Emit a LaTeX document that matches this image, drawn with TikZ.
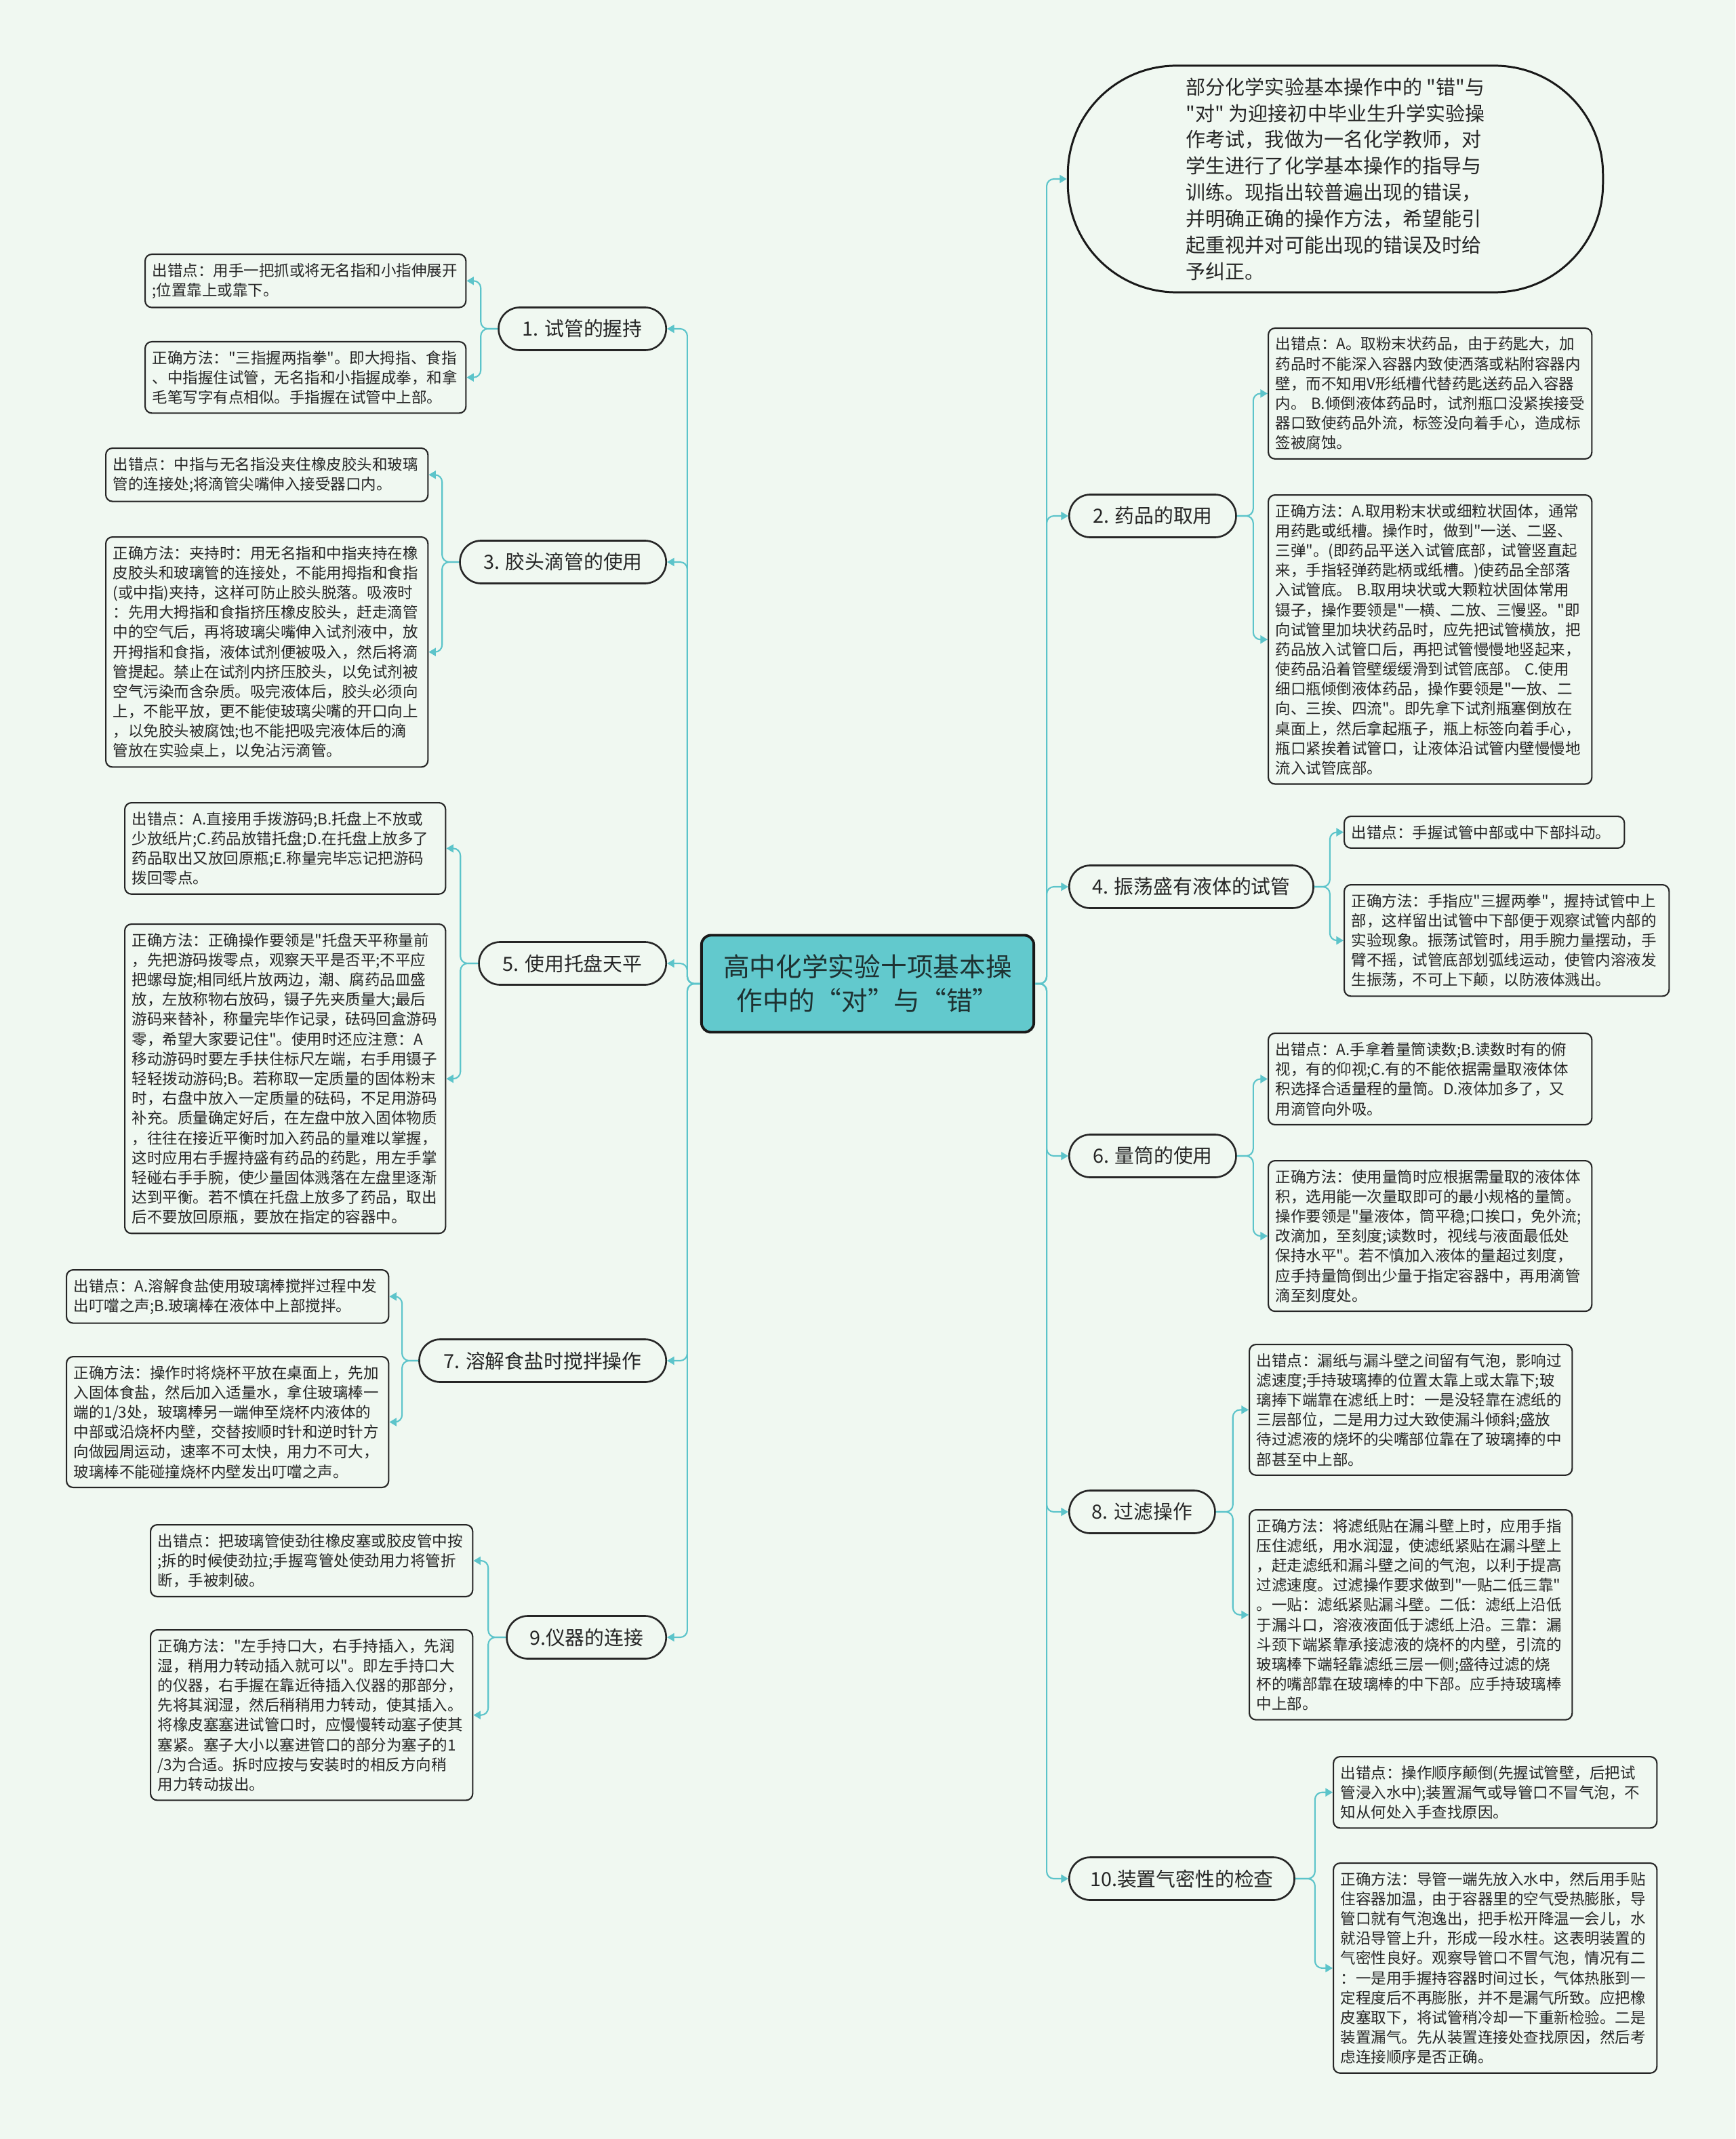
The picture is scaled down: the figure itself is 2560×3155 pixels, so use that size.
\documentclass[tikz,border=0pt]{standalone}
\usepackage{fontspec}
\setmainfont{Noto Sans CJK SC}
\newfontfamily\cjk{Noto Sans CJK SC}
\usetikzlibrary{arrows.meta,calc}
\definecolor{bg}{RGB}{240,248,241}
\definecolor{teal1}{RGB}{92,196,202}
\definecolor{centerfill}{RGB}{98,201,205}
\definecolor{txt}{RGB}{38,38,38}
\begin{document}
\begin{tikzpicture}[x=0.01cm,y=-0.01cm,
 leaf/.style={draw=black!85, line width=0.6pt, rounded corners=2.8pt, fill=bg, anchor=north west, align=left, inner xsep=0.105cm, inner ysep=3.7pt, font=\cjk\fontsize{6.4}{8.3}\selectfont, text=txt},
 branch/.style={draw=black!85, line width=0.75pt, rounded corners=8.9pt, fill=bg, inner xsep=2pt, minimum height=0.63cm, font=\cjk\fontsize{8.2}{10}\selectfont, text=txt},
 conn/.style={draw=teal1, line width=0.6pt, rounded corners=3pt, -{Triangle[length=3pt,width=3.4pt]}},
]
\useasboundingbox[fill=bg] (0,0) rectangle (2560,3155);

% center
\node[draw=black!90, line width=1.1pt, fill=centerfill, rounded corners=4pt, minimum width=4.9cm, minimum height=1.43cm, align=center, font=\cjk\fontsize{11}{14.2}\selectfont, text={rgb,255:red,30;green,50;blue,50}] (c) at (1280,1451) {高中化学实验十项基本操\\作中的“对”与“错”};

% intro
\node[draw=black!90, line width=0.85pt, rounded corners=1.6cm, fill=bg, minimum width=7.89cm, minimum height=3.34cm, align=left, font=\cjk\fontsize{8.25}{11.04}\selectfont, text=txt] (intro) at (1970,264) {部分化学实验基本操作中的 "错"与\\"对" 为迎接初中毕业生升学实验操\\作考试，我做为一名化学教师，对\\学生进行了化学基本操作的指导与\\训练。现指出较普遍出现的错误，\\并明确正确的操作方法，希望能引\\起重视并对可能出现的错误及时给\\予纠正。};

% left branches
\node[branch, anchor=east, minimum width=2.47cm] (b1) at (984,485) {1. 试管的握持};
\node[branch, anchor=east, minimum width=3.04cm] (b3) at (984,829) {3. 胶头滴管的使用};
\node[branch, anchor=east, minimum width=2.76cm] (b5) at (984,1421) {5. 使用托盘天平};
\node[branch, anchor=east, minimum width=3.64cm] (b7) at (984,2007) {7. 溶解食盐时搅拌操作};
\node[branch, anchor=east, minimum width=2.35cm] (b9) at (984,2415) {9.仪器的连接};

% right branches
\node[branch, anchor=west, minimum width=2.46cm] (b2) at (1576,761) {2. 药品的取用};
\node[branch, anchor=west, minimum width=3.60cm] (b4) at (1576,1308) {4. 振荡盛有液体的试管};
\node[branch, anchor=west, minimum width=2.46cm] (b6) at (1576,1705) {6. 量筒的使用};
\node[branch, anchor=west, minimum width=2.15cm] (b8) at (1576,2230) {8. 过滤操作};
\node[branch, anchor=west, minimum width=3.32cm] (b10) at (1576,2771) {10.装置气密性的检查};

% left leaves
\node[leaf, text width=4.52cm] (l1a) at (213,374) {出错点：用手一把抓或将无名指和小指伸展开\\;位置靠上或靠下。};
\node[leaf, text width=4.52cm] (l1b) at (213,503) {正确方法："三指握两指拳"。即大拇指、食指\\、中指握住试管，无名指和小指握成拳，和拿\\毛笔写字有点相似。手指握在试管中上部。};

\node[leaf, text width=4.54cm] (l3a) at (155,660) {出错点：中指与无名指没夹住橡皮胶头和玻璃\\管的连接处;将滴管尖嘴伸入接受器口内。};
\node[leaf, text width=4.54cm] (l3b) at (155,791) {正确方法：夹持时：用无名指和中指夹持在橡\\皮胶头和玻璃管的连接处，不能用拇指和食指\\(或中指)夹持，这样可防止胶头脱落。吸液时\\：先用大拇指和食指挤压橡皮胶头，赶走滴管\\中的空气后，再将玻璃尖嘴伸入试剂液中，放\\开拇指和食指，液体试剂便被吸入，然后将滴\\管提起。禁止在试剂内挤压胶头，以免试剂被\\空气污染而含杂质。吸完液体后，胶头必须向\\上，不能平放，更不能使玻璃尖嘴的开口向上\\，以免胶头被腐蚀;也不能把吸完液体后的滴\\管放在实验桌上，以免沾污滴管。};

\node[leaf, text width=4.52cm] (l5a) at (183,1183) {出错点：A.直接用手拨游码;B.托盘上不放或\\少放纸片;C.药品放错托盘;D.在托盘上放多了\\药品取出又放回原瓶;E.称量完毕忘记把游码\\拨回零点。};
\node[leaf, text width=4.52cm] (l5b) at (183,1362) {正确方法：正确操作要领是"托盘天平称量前\\，先把游码拨零点，观察天平是否平;不平应\\把螺母旋;相同纸片放两边，潮、腐药品皿盛\\放，左放称物右放码，镊子先夹质量大;最后\\游码来替补，称量完毕作记录，砝码回盒游码\\零，希望大家要记住"。使用时还应注意：A\\移动游码时要左手扶住标尺左端，右手用镊子\\轻轻拨动游码;B。若称取一定质量的固体粉末\\时，右盘中放入一定质量的砝码，不足用游码\\补充。质量确定好后，在左盘中放入固体物质\\，往往在接近平衡时加入药品的量难以掌握，\\这时应用右手握持盛有药品的药匙，用左手掌\\轻碰右手手腕，使少量固体溅落在左盘里逐渐\\达到平衡。若不慎在托盘上放多了药品，取出\\后不要放回原瓶，要放在指定的容器中。};

\node[leaf, text width=4.54cm] (l7a) at (97,1872) {出错点：A.溶解食盐使用玻璃棒搅拌过程中发\\出叮噹之声;B.玻璃棒在液体中上部搅拌。};
\node[leaf, text width=4.54cm] (l7b) at (97,2000) {正确方法：操作时将烧杯平放在桌面上，先加\\入固体食盐，然后加入适量水，拿住玻璃棒一\\端的1/3处，玻璃棒另一端伸至烧杯内液体的\\中部或沿烧杯内壁，交替按顺时针和逆时针方\\向做园周运动，速率不可太快，用力不可大，\\玻璃棒不能碰撞烧杯内壁发出叮噹之声。};

\node[leaf, text width=4.54cm] (l9a) at (221,2248) {出错点：把玻璃管使劲往橡皮塞或胶皮管中按\\;拆的时候使劲拉;手握弯管处使劲用力将管折\\断，手被刺破。};
\node[leaf, text width=4.54cm] (l9b) at (221,2403) {正确方法："左手持口大，右手持插入，先润\\湿，稍用力转动插入就可以"。即左手持口大\\的仪器，右手握在靠近待插入仪器的那部分，\\先将其润湿，然后稍稍用力转动，使其插入。\\将橡皮塞塞进试管口时，应慢慢转动塞子使其\\塞紧。塞子大小以塞进管口的部分为塞子的1\\/3为合适。拆时应按与安装时的相反方向稍\\用力转动拔出。};

% right leaves
\node[leaf, text width=4.56cm] (r2a) at (1870,483) {出错点：A。取粉末状药品，由于药匙大，加\\药品时不能深入容器内致使洒落或粘附容器内\\壁，而不知用V形纸槽代替药匙送药品入容器\\内。~B.倾倒液体药品时，试剂瓶口没紧挨接受\\器口致使药品外流，标签没向着手心，造成标\\签被腐蚀。};
\node[leaf, text width=4.56cm] (r2b) at (1870,729) {正确方法：A.取用粉末状或细粒状固体，通常\\用药匙或纸槽。操作时，做到"一送、二竖、\\三弹"。(即药品平送入试管底部，试管竖直起\\来，手指轻弹药匙柄或纸槽。)使药品全部落\\入试管底。~B.取用块状或大颗粒状固体常用\\镊子，操作要领是"一横、二放、三慢竖。"即\\向试管里加块状药品时，应先把试管横放，把\\药品放入试管口后，再把试管慢慢地竖起来，\\使药品沿着管壁缓缓滑到试管底部。~C.使用\\细口瓶倾倒液体药品，操作要领是"一放、二\\向、三挨、四流"。即先拿下试剂瓶塞倒放在\\桌面上，然后拿起瓶子，瓶上标签向着手心，\\瓶口紧挨着试管口，让液体沿试管内壁慢慢地\\流入试管底部。};

\node[leaf, text width=3.92cm] (r4a) at (1982,1203) {出错点：手握试管中部或中下部抖动。};
\node[leaf, text width=4.58cm] (r4b) at (1982,1304) {正确方法：手指应"三握两拳"，握持试管中上\\部，这样留出试管中下部便于观察试管内部的\\实验现象。振荡试管时，用手腕力量摆动，手\\臂不摇，试管底部划弧线运动，使管内溶液发\\生振荡，不可上下颠，以防液体溅出。};

\node[leaf, text width=4.56cm] (r6a) at (1870,1523) {出错点：A.手拿着量筒读数;B.读数时有的俯\\视，有的仰视;C.有的不能依据需量取液体体\\积选择合适量程的量筒。D.液体加多了，又\\用滴管向外吸。};
\node[leaf, text width=4.56cm] (r6b) at (1870,1711) {正确方法：使用量筒时应根据需量取的液体体\\积，选用能一次量取即可的最小规格的量筒。\\操作要领是"量液体，筒平稳;口挨口，免外流;\\改滴加，至刻度;读数时，视线与液面最低处\\保持水平"。若不慎加入液体的量超过刻度，\\应手持量筒倒出少量于指定容器中，再用滴管\\滴至刻度处。};

\node[leaf, text width=4.55cm] (r8a) at (1842,1982) {出错点：漏纸与漏斗壁之间留有气泡，影响过\\滤速度;手持玻璃捧的位置太靠上或太靠下;玻\\璃捧下端靠在滤纸上时：一是没轻靠在滤纸的\\三层部位，二是用力过大致使漏斗倾斜;盛放\\待过滤液的烧坏的尖嘴部位靠在了玻璃捧的中\\部甚至中上部。};
\node[leaf, text width=4.55cm] (r8b) at (1842,2226) {正确方法：将滤纸贴在漏斗壁上时，应用手指\\压住滤纸，用水润湿，使滤纸紧贴在漏斗壁上\\，赶走滤纸和漏斗壁之间的气泡，以利于提高\\过滤速度。过滤操作要求做到"一贴二低三靠"\\。一贴：滤纸紧贴漏斗壁。二低：滤纸上沿低\\于漏斗口，溶液液面低于滤纸上沿。三靠：漏\\斗颈下端紧靠承接滤液的烧杯的内壁，引流的\\玻璃棒下端轻靠滤纸三层一侧;盛待过滤的烧\\杯的嘴部靠在玻璃棒的中下部。应手持玻璃棒\\中上部。};

\node[leaf, text width=4.56cm] (r10a) at (1966,2590) {出错点：操作顺序颠倒(先握试管壁，后把试\\管浸入水中);装置漏气或导管口不冒气泡，不\\知从何处入手查找原因。};
\node[leaf, text width=4.56cm] (r10b) at (1966,2747) {正确方法：导管一端先放入水中，然后用手贴\\住容器加温，由于容器里的空气受热膨胀，导\\管口就有气泡逸出，把手松开降温一会儿，水\\就沿导管上升，形成一段水柱。这表明装置的\\气密性良好。观察导管口不冒气泡，情况有二\\：一是用手握持容器时间过长，气体热胀到一\\定程度后不再膨胀，并不是漏气所致。应把橡\\皮塞取下，将试管稍冷却一下重新检验。二是\\装置漏气。先从装置连接处查找原因，然后考\\虑连接顺序是否正确。};

% center to branches
\foreach \b in {b1,b3,b5,b7,b9}{
  \draw[conn] (c.west) -- ++(-19,0) |- (\b.east);
}
\foreach \b in {intro,b2,b4,b6,b8,b10}{
  \draw[conn] (c.east) -- ++(17,0) |- (\b.west);
}

% branches to leaves (left)
\draw[conn] (b1.west) -- ++(-25,0) |- (l1a.east);
\draw[conn] (b1.west) -- ++(-25,0) |- (l1b.east);
\draw[conn] (b3.west) -- ++(-25,0) |- (l3a.east);
\draw[conn] (b3.west) -- ++(-25,0) |- (l3b.east);
\draw[conn] (b5.west) -- ++(-26,0) |- (l5a.east);
\draw[conn] (b5.west) -- ++(-26,0) |- (l5b.east);
\draw[conn] (b7.west) -- ++(-24,0) |- (l7a.east);
\draw[conn] (b7.west) -- ++(-24,0) |- (l7b.east);
\draw[conn] (b9.west) -- ++(-26,0) |- (l9a.east);
\draw[conn] (b9.west) -- ++(-26,0) |- (l9b.east);

% branches to leaves (right)
\draw[conn] (b2.east) -- ++(24,0) |- (r2a.west);
\draw[conn] (b2.east) -- ++(24,0) |- (r2b.west);
\draw[conn] (b4.east) -- ++(23,0) |- (r4a.west);
\draw[conn] (b4.east) -- ++(23,0) |- (r4b.west);
\draw[conn] (b6.east) -- ++(24,0) |- (r6a.west);
\draw[conn] (b6.east) -- ++(24,0) |- (r6b.west);
\draw[conn] (b8.east) -- ++(25,0) |- (r8a.west);
\draw[conn] (b8.east) -- ++(25,0) |- (r8b.west);
\draw[conn] (b10.east) -- ++(29,0) |- (r10a.west);
\draw[conn] (b10.east) -- ++(29,0) |- (r10b.west);
\end{tikzpicture}
\end{document}
